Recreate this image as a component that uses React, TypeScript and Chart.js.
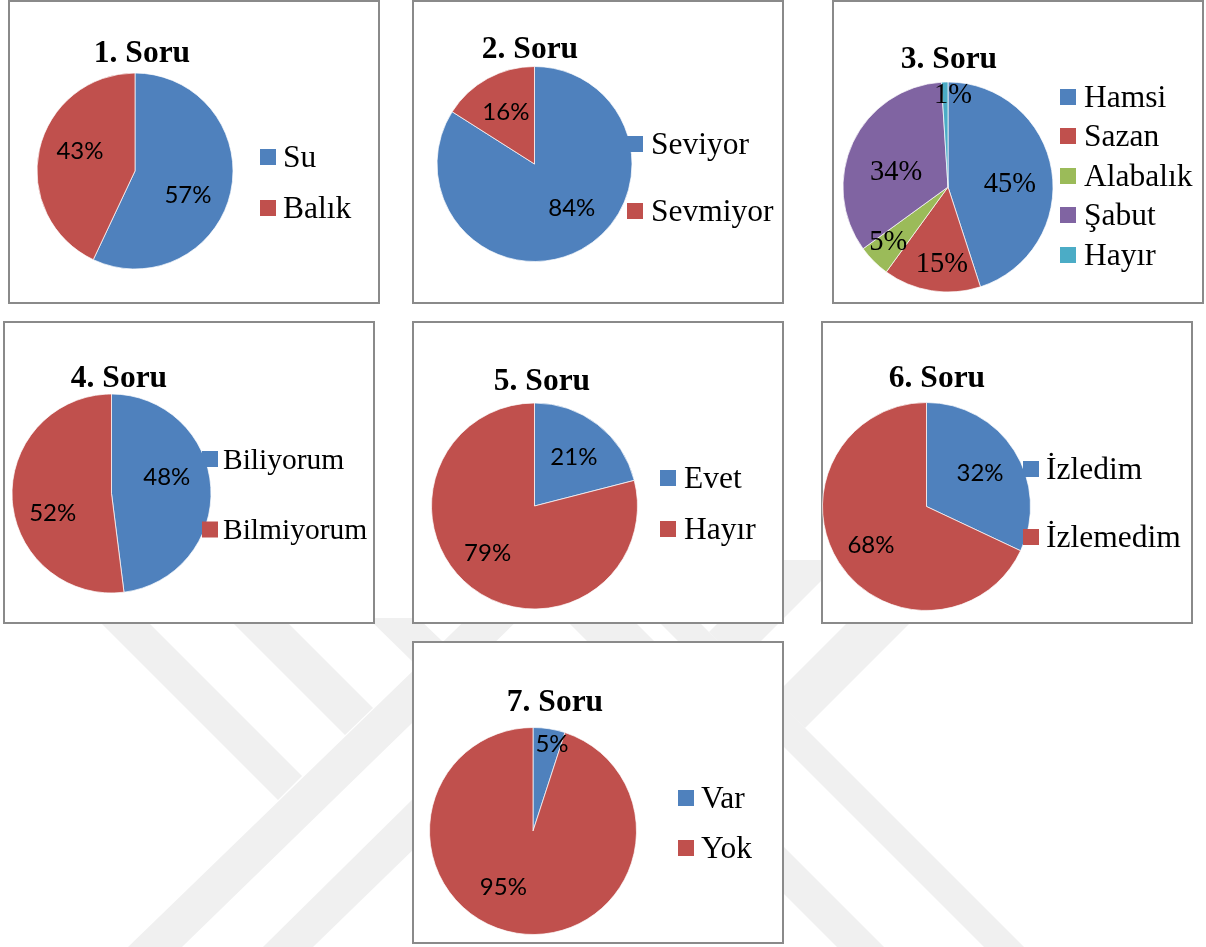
import React, { useEffect, useRef } from 'react';
import { Chart, registerables } from 'chart.js';

Chart.register(...registerables);

// ---- Data ----
const titles = ['1. Soru', '2. Soru', '3. Soru', '4. Soru', '5. Soru', '6. Soru', '7. Soru'];

const q1Labels = ['Su', 'Balık'];
const q1Values = [57, 43];

const q2Labels = ['Seviyor', 'Sevmiyor'];
const q2Values = [84, 16];

const q3Labels = ['Hamsi', 'Sazan', 'Alabalık', 'Şabut', 'Hayır'];
const q3Values = [45, 15, 5, 34, 1];

const q4Labels = ['Biliyorum', 'Bilmiyorum'];
const q4Values = [48, 52];

const q5Labels = ['Evet', 'Hayır'];
const q5Values = [21, 79];

const q6Labels = ['İzledim', 'İzlemedim'];
const q6Values = [32, 68];

const q7Labels = ['Var', 'Yok'];
const q7Values = [5, 95];

// ---- Styles ----
const BLUE = '#4F81BD';
const RED = '#C0504D';
const GREEN = '#9BBB59';
const PURPLE = '#8064A2';
const CYAN = '#4BACC6';
const SERIF = '"Liberation Serif", "Times New Roman", serif';
const SANS = 'Lato, "Open Sans", sans-serif';

type PanelCfg = {
  title: string;
  labels: string[];
  values: number[];
  colors: string[];
  box: [number, number, number, number];
  center: [number, number];
  radius: number;
  titlePos: [number, number];
  titleSize: number;
  legendSq: number;
  legendText: number;
  legendRows: number[];
  legendSize: number;
  labelFont: string;
  labelSize: number;
  labelPlace: [number, number][];
};

const panels: PanelCfg[] = [
  {
    title: titles[0], labels: q1Labels, values: q1Values, colors: [BLUE, RED],
    box: [8, 0, 372, 304], center: [135, 171], radius: 98,
    titlePos: [142, 62], titleSize: 31.5,
    legendSq: 260, legendText: 283, legendRows: [157, 208], legendSize: 31.5,
    labelFont: SANS, labelSize: 24, labelPlace: [[0.59, 11], [0.6, 8]],
  },
  {
    title: titles[1], labels: q2Labels, values: q2Values, colors: [BLUE, RED],
    box: [412, 0, 372, 304], center: [534.5, 164], radius: 97.5,
    titlePos: [530, 58], titleSize: 31.5,
    legendSq: 627, legendText: 651, legendRows: [144, 211], legendSize: 31.5,
    labelFont: SANS, labelSize: 24, labelPlace: [[0.585, -12], [0.61, 0]],
  },
  {
    title: titles[2], labels: q3Labels, values: q3Values, colors: [BLUE, RED, GREEN, PURPLE, CYAN],
    box: [832, 0, 372, 304], center: [948, 187], radius: 105,
    titlePos: [949, 68], titleSize: 31.5,
    legendSq: 1060, legendText: 1084, legendRows: [97, 136, 176, 215, 255], legendSize: 31.5,
    labelFont: SERIF, labelSize: 28.5,
    labelPlace: [[0.59, 4.4], [0.715, -4.4], [0.76, 3.5], [0.52, -7.2], [0.9, 4.8]],
  },
  {
    title: titles[3], labels: q4Labels, values: q4Values, colors: [BLUE, RED],
    box: [3, 321, 372, 303], center: [111.5, 493.5], radius: 99.5,
    titlePos: [119, 387], titleSize: 31.5,
    legendSq: 202, legendText: 223, legendRows: [459, 529.5], legendSize: 29.5,
    labelFont: SANS, labelSize: 24, labelPlace: [[0.58, -13], [0.62, -14]],
  },
  {
    title: titles[4], labels: q5Labels, values: q5Values, colors: [BLUE, RED],
    box: [412, 321, 372, 303], center: [534.5, 506], radius: 103,
    titlePos: [542, 390], titleSize: 31.5,
    legendSq: 660, legendText: 684, legendRows: [478, 529], legendSize: 31.5,
    labelFont: SANS, labelSize: 24, labelPlace: [[0.61, 1], [0.64, 7.5]],
  },
  {
    title: titles[5], labels: q6Labels, values: q6Values, colors: [BLUE, RED],
    box: [821, 321, 372, 303], center: [926.5, 506.5], radius: 104,
    titlePos: [937, 387], titleSize: 31.5,
    legendSq: 1023, legendText: 1046, legendRows: [469, 537], legendSize: 31.5,
    labelFont: SANS, labelSize: 24, labelPlace: [[0.61, 0], [0.65, -2.3]],
  },
  {
    title: titles[6], labels: q7Labels, values: q7Values, colors: [BLUE, RED],
    box: [412, 641, 372, 303], center: [533, 831], radius: 103.5,
    titlePos: [555, 711], titleSize: 31.5,
    legendSq: 678, legendText: 701, legendRows: [798, 848], legendSize: 31.5,
    labelFont: SANS, labelSize: 24, labelPlace: [[0.86, 3.3], [0.61, 19]],
  },
];

// faint background watermark (decoration)
const watermark: string[] = [
  '38,560 86,560 302,776 278,800',
  '170,560 225,560 373,708 345,735',
  '368,618 418,618 442,641 417,666',
  '128,947 182,947 600,540 548,540',
  '263,947 313,947 420,843 420,792',
  '506,560 573,560 673,660 606,660',
  '617,540 1024,947 984,947 577,540',
  '773,697 910,560 973,560 805,728',
  '709,632 781,560 842,560 739,663',
  '700,763 884,947 837,947 700,810',
];

const M = 12;

function PiePanel({ cfg }: { cfg: PanelCfg }) {
  const ref = useRef<HTMLCanvasElement | null>(null);
  const [bx, by, bw, bh] = cfg.box;
  const ox = bx - M;
  const oy = by - M;
  const W = bw + 2 * M;
  const H = bh + 2 * M;

  useEffect(() => {
    if (!ref.current) return;
    const cx = cfg.center[0] - ox;
    const cy = cfg.center[1] - oy;
    const S = cfg.radius + 4;

    const textPlugin = {
      id: 'panelText',
      afterDatasetsDraw(chart: any) {
        const ctx = chart.ctx as CanvasRenderingContext2D;
        const meta = chart.getDatasetMeta(0);
        ctx.save();
        ctx.fillStyle = '#000';
        ctx.textAlign = 'center';
        ctx.textBaseline = 'alphabetic';
        meta.data.forEach((arc: any, i: number) => {
          const [f, off] = cfg.labelPlace[i];
          const a = (arc.startAngle + arc.endAngle) / 2 + (off * Math.PI) / 180;
          const x = arc.x + Math.cos(a) * f * arc.outerRadius;
          const y = arc.y + Math.sin(a) * f * arc.outerRadius;
          ctx.font = `${cfg.labelSize}px ${cfg.labelFont}`;
          ctx.fillText(`${cfg.values[i]}%`, x, y + cfg.labelSize * 0.35);
        });
        ctx.font = `bold ${cfg.titleSize}px ${SERIF}`;
        ctx.fillText(cfg.title, cfg.titlePos[0] - ox, cfg.titlePos[1] - oy);
        ctx.textAlign = 'left';
        cfg.labels.forEach((lab, i) => {
          const ry = cfg.legendRows[i] - oy;
          ctx.fillStyle = cfg.colors[i];
          ctx.fillRect(cfg.legendSq - ox, ry - 8, 16, 16);
          ctx.fillStyle = '#000';
          ctx.font = `${cfg.legendSize}px ${SERIF}`;
          ctx.fillText(lab, cfg.legendText - ox, ry + cfg.legendSize * 0.33);
        });
        ctx.restore();
      },
    };

    const chart = new Chart(ref.current, {
      type: 'pie',
      data: {
        labels: cfg.labels,
        datasets: [
          {
            data: cfg.values,
            backgroundColor: cfg.colors,
            borderColor: 'rgba(255,255,255,0.7)',
            borderWidth: 1,
          },
        ],
      },
      options: {
        responsive: false,
        animation: false,
        radius: cfg.radius,
        events: [],
        layout: {
          padding: { left: cx - S, right: W - cx - S, top: cy - S, bottom: H - cy - S },
        },
        plugins: {
          legend: { display: false },
          title: { display: false },
          tooltip: { enabled: false },
        },
      } as any,
      plugins: [textPlugin],
    });
    return () => chart.destroy();
  }, []);

  return (
    <>
      <div
        style={{
          position: 'absolute', left: bx, top: by, width: bw, height: bh,
          border: '2px solid #8a8a8a', boxSizing: 'border-box', background: '#fff',
        }}
      />
      <canvas
        ref={ref}
        width={W}
        height={H}
        style={{ position: 'absolute', left: ox, top: oy, width: W, height: H }}
      />
    </>
  );
}

export default function App() {
  return (
    <div
      style={{
        position: 'absolute', left: 0, top: 0, width: 1206, height: 947,
        background: '#fff', overflow: 'hidden',
      }}
    >
      <svg width={1206} height={947} style={{ position: 'absolute', left: 0, top: 0 }}>
        {watermark.map((pts, i) => (
          <polygon key={i} points={pts} fill="#f0f0f0" />
        ))}
      </svg>
      {panels.map((p, i) => (
        <PiePanel key={i} cfg={p} />
      ))}
    </div>
  );
}
